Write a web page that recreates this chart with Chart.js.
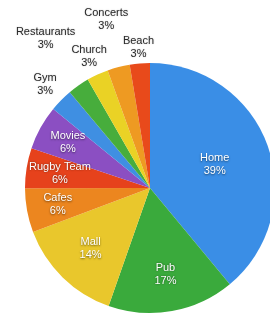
<!DOCTYPE html>
<html>
<head>
<meta charset="utf-8">
<script src="https://cdn.jsdelivr.net/npm/chart.js@4/dist/chart.umd.min.js"></script>
<style>
  html, body { margin: 0; padding: 0; background: #fff; overflow: hidden; }
  #wrap { width: 270px; height: 318px; overflow: hidden; }
</style>
</head>
<body>
<div id="wrap"><canvas id="pie" width="280" height="318"></canvas></div>
<script>
// data (slice sizes estimated from the angles)
const places = ["Home", "Pub", "Mall", "Cafes", "Rugby Team", "Movies", "Gym", "Restaurants", "Church", "Concerts", "Beach"];
const shares = [39, 16.4, 13.9, 5.7, 5.2, 5.75, 3.0, 2.8, 2.8, 2.9, 2.6];
const percentLabels = ["39%", "17%", "14%", "6%", "6%", "6%", "3%", "3%", "3%", "3%", "3%"];

const sliceColors = ["#3a8ee6", "#3aaa3c", "#e9c72c", "#ec861f", "#e6421c", "#8b4fc2",
                     "#3f8fe2", "#47ad3c", "#ead225", "#ee9a22", "#e84a1b"];

// label placement: fraction of the radius, per slice (small ones go outside, staggered)
const labelRadius = [0.55, 0.7, 0.68, 0.75, 0.73, 0.75, 1.18, 1.46, 1.16, 1.39, 1.13];

const sliceLabels = {
    id: "sliceLabels",
    afterDatasetsDraw(chart) {
        const ctx = chart.ctx;
        const arcs = chart.getDatasetMeta(0).data;
        ctx.save();
        ctx.font = "11px 'Liberation Sans', Arial, sans-serif";
        ctx.textAlign = "center";
        ctx.textBaseline = "middle";
        arcs.forEach((arc, i) => {
            const mid = (arc.startAngle + arc.endAngle) / 2;
            const r = arc.outerRadius * labelRadius[i];
            const x = arc.x + Math.cos(mid) * r;
            const y = arc.y + Math.sin(mid) * r;
            const outside = labelRadius[i] > 1;
            if (outside) {
                ctx.fillStyle = "#2a2a2a";
                ctx.shadowColor = "rgba(0,0,0,0.25)";
                ctx.shadowBlur = 1.5;
            } else {
                ctx.fillStyle = "#ffffff";
                ctx.shadowColor = "rgba(0,0,0,0.55)";
                ctx.shadowBlur = 2;
                ctx.shadowOffsetY = 0.5;
            }
            ctx.fillText(places[i], x, y - 6.5);
            ctx.fillText(percentLabels[i], x, y + 6.5);
            ctx.shadowOffsetY = 0;
        });
        ctx.restore();
    }
};

new Chart(document.getElementById("pie"), {
    type: "pie",
    data: {
        labels: places,
        datasets: [{
            data: shares,
            backgroundColor: sliceColors,
            borderWidth: 0
        }]
    },
    options: {
        responsive: false,
        animation: false,
        layout: { padding: { top: 63, bottom: 5, left: 25, right: 5 } },
        plugins: {
            legend: { display: false },
            tooltip: { enabled: false }
        }
    },
    plugins: [sliceLabels]
});
</script>
</body>
</html>
